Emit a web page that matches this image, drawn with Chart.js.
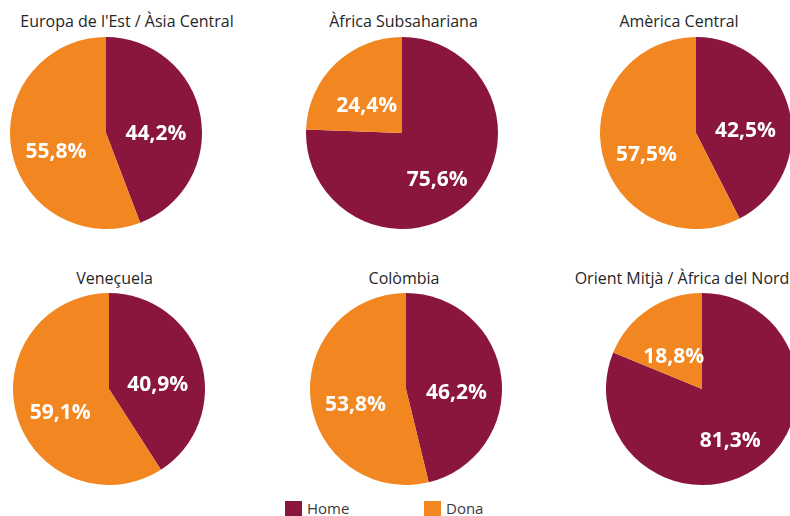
<!DOCTYPE html>
<html>
<head>
<meta charset="utf-8">
<script src="https://cdn.jsdelivr.net/npm/chart.js@4/dist/chart.umd.min.js"></script>
<style>
  html, body { margin: 0; padding: 0; background: #fff; }
  body { width: 790px; height: 516px; position: relative; overflow: hidden; font-family: "Open Sans", sans-serif; }
  .title { position: absolute; transform: translateX(-50%); white-space: nowrap; font-size: 16px; line-height: 20px; color: #262626; }
  .pie { position: absolute; }
  .legend { position: absolute; top: 499px; font-size: 15px; line-height: 18px; color: #3a3a3a; }
  .legend span.sw { display: inline-block; width: 17px; height: 16px; vertical-align: -3px; margin-right: 5px; }
</style>
</head>
<body>
<script>
  'use strict';

  var regions = [
    'Europa de l\'Est / Àsia Central',
    'Àfrica Subsahariana',
    'Amèrica Central',
    'Veneçuela',
    'Colòmbia',
    'Orient Mitjà / Àfrica del Nord',
  ];
  var series = ['Home', 'Dona'];
  var home = [44.2, 75.6, 42.5, 40.9, 46.2, 81.3];
  var dona = [55.8, 24.4, 57.5, 59.1, 53.8, 18.8];

  var colors = { home: '#8a163e', dona: '#f28722' };

  // layout: pie centres and title centres, px
  var R = 96;
  var pieCentres = [[105.5, 133], [401.5, 133], [695.5, 133], [109, 389], [405.5, 389], [702, 389]];
  var titleCentres = [[127, 11], [403.5, 11], [679, 11], [114.5, 268], [404, 268], [682, 268]];

  var pctLabels = {
    id: 'pctLabels',
    afterDatasetsDraw: function (chart) {
      var ctx = chart.ctx;
      var meta = chart.getDatasetMeta(0);
      var data = chart.data.datasets[0].data;
      ctx.save();
      ctx.fillStyle = '#ffffff';
      ctx.font = 'bold 21px "Open Sans", sans-serif';
      ctx.textAlign = 'center';
      ctx.textBaseline = 'middle';
      meta.data.forEach(function (arc, i) {
        var p = arc.getProps(['x', 'y', 'startAngle', 'endAngle', 'outerRadius'], true);
        var mid = (p.startAngle + p.endAngle) / 2;
        var d = p.outerRadius * 0.53;
        var tx = p.x + Math.cos(mid) * d;
        var ty = p.y + Math.sin(mid) * d + 10;
        ctx.fillText(data[i].toFixed(1).replace('.', ',') + '%', tx, ty);
      });
      ctx.restore();
    },
  };

  regions.forEach(function (name, i) {
    var t = document.createElement('div');
    t.className = 'title';
    t.textContent = name;
    t.style.left = titleCentres[i][0] + 'px';
    t.style.top = titleCentres[i][1] + 'px';
    document.body.appendChild(t);

    var c = document.createElement('canvas');
    c.className = 'pie';
    c.width = R * 2;
    c.height = R * 2;
    c.style.left = pieCentres[i][0] - R + 'px';
    c.style.top = pieCentres[i][1] - R + 'px';
    document.body.appendChild(c);

    new Chart(c, {
      type: 'pie',
      data: {
        labels: series,
        datasets: [
          {
            data: [home[i], dona[i]],
            backgroundColor: [colors.home, colors.dona],
            borderWidth: 0,
          },
        ],
      },
      options: {
        responsive: false,
        animation: false,
        layout: { padding: 0 },
        plugins: { legend: { display: false }, tooltip: { enabled: false } },
      },
      plugins: [pctLabels],
    });
  });

  var legend = [
    { label: series[0], color: colors.home, x: 285 },
    { label: series[1], color: colors.dona, x: 424 },
  ];
  legend.forEach(function (l) {
    var d = document.createElement('div');
    d.className = 'legend';
    d.style.left = l.x + 'px';
    d.innerHTML = '<span class="sw" style="background:' + l.color + '"></span>';
    d.appendChild(document.createTextNode(l.label));
    document.body.appendChild(d);
  });
</script>
</body>
</html>
